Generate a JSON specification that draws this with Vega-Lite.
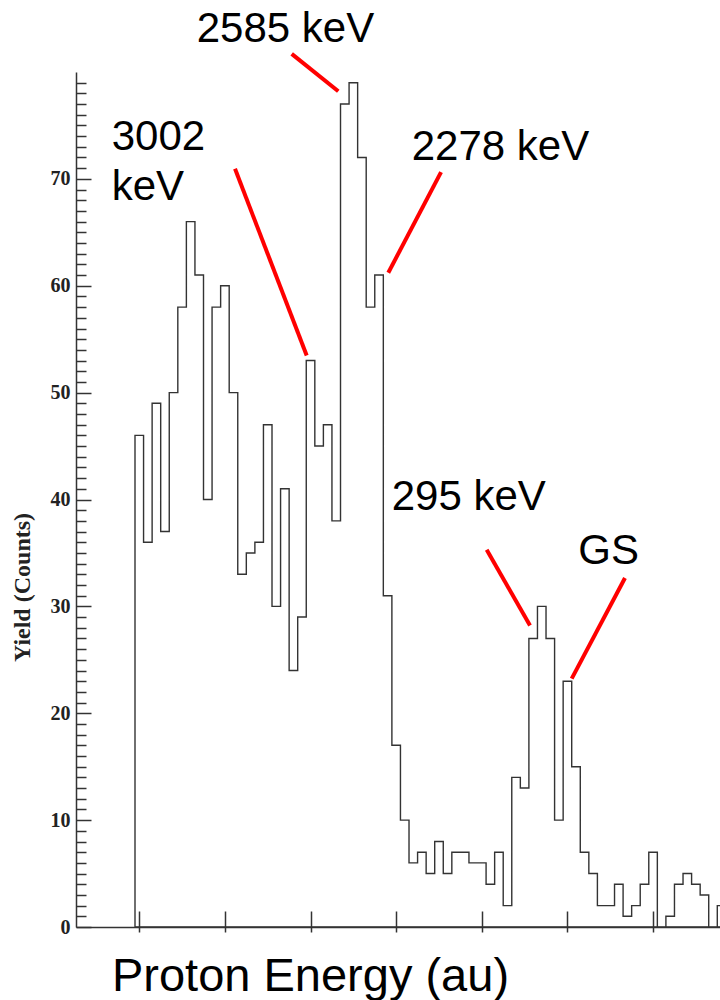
{
  "$schema": "https://vega.github.io/schema/vega-lite/v6.json",
  "width": 644,
  "height": 855,
  "autosize": "none",
  "padding": {"left": 76, "top": 72, "right": 0, "bottom": 73},
  "background": "white",
  "config": {"view": {"stroke": null}},
  "resolve": {"axis": {"x": "independent", "y": "independent"}},
  "datasets": {
    "hist": [
      {"bin": 0, "n": 46}, {"bin": 1, "n": 36}, {"bin": 2, "n": 49}, {"bin": 3, "n": 37}, {"bin": 4, "n": 50},
      {"bin": 5, "n": 58}, {"bin": 6, "n": 66}, {"bin": 7, "n": 61}, {"bin": 8, "n": 40}, {"bin": 9, "n": 58},
      {"bin": 10, "n": 60}, {"bin": 11, "n": 50}, {"bin": 12, "n": 33}, {"bin": 13, "n": 35}, {"bin": 14, "n": 36},
      {"bin": 15, "n": 47}, {"bin": 16, "n": 30}, {"bin": 17, "n": 41}, {"bin": 18, "n": 24}, {"bin": 19, "n": 29},
      {"bin": 20, "n": 53}, {"bin": 21, "n": 45}, {"bin": 22, "n": 47}, {"bin": 23, "n": 38}, {"bin": 24, "n": 77},
      {"bin": 25, "n": 79}, {"bin": 26, "n": 72}, {"bin": 27, "n": 58}, {"bin": 28, "n": 61}, {"bin": 29, "n": 31},
      {"bin": 30, "n": 17}, {"bin": 31, "n": 10}, {"bin": 32, "n": 6}, {"bin": 33, "n": 7}, {"bin": 34, "n": 5},
      {"bin": 35, "n": 8}, {"bin": 36, "n": 5}, {"bin": 37, "n": 7}, {"bin": 38, "n": 7}, {"bin": 39, "n": 6},
      {"bin": 40, "n": 6}, {"bin": 41, "n": 4}, {"bin": 42, "n": 7}, {"bin": 43, "n": 2}, {"bin": 44, "n": 14},
      {"bin": 45, "n": 13}, {"bin": 46, "n": 27}, {"bin": 47, "n": 30}, {"bin": 48, "n": 27}, {"bin": 49, "n": 10},
      {"bin": 50, "n": 23}, {"bin": 51, "n": 15}, {"bin": 52, "n": 7}, {"bin": 53, "n": 5}, {"bin": 54, "n": 2},
      {"bin": 55, "n": 2}, {"bin": 56, "n": 4}, {"bin": 57, "n": 1}, {"bin": 58, "n": 2}, {"bin": 59, "n": 4},
      {"bin": 60, "n": 7}, {"bin": 61, "n": 0}, {"bin": 62, "n": 1}, {"bin": 63, "n": 4}, {"bin": 64, "n": 5},
      {"bin": 65, "n": 4}, {"bin": 66, "n": 3}, {"bin": 67, "n": 0}, {"bin": 68, "n": 2}, {"bin": 69, "n": 2}
    ],
    "pointers": [
      {"label": "2585 keV", "x1": 18.30, "y1": 81.70, "x2": 23.74, "y2": 78.20},
      {"label": "3002 keV", "x1": 11.68, "y1": 70.94, "x2": 20.05, "y2": 53.48},
      {"label": "2278 keV", "x1": 35.74, "y1": 70.63, "x2": 29.58, "y2": 61.22},
      {"label": "295 keV", "x1": 41.07, "y1": 35.30, "x2": 46.13, "y2": 28.22},
      {"label": "GS", "x1": 57.22, "y1": 32.65, "x2": 51.00, "y2": 23.24}
    ],
    "labels": [
      {"text": "2585 keV", "x": 7.21, "y": 82.79},
      {"text": "3002\nkeV", "x": -2.72, "y": 72.66},
      {"text": "2278 keV", "x": 32.31, "y": 71.72},
      {"text": "295 keV", "x": 29.98, "y": 38.98},
      {"text": "GS", "x": 51.77, "y": 33.99}
    ]
  },
  "layer": [
    {
      "data": {"name": "hist"},
      "mark": {"type": "area", "interpolate": "step-after", "fill": "transparent", "stroke": "#333333", "strokeWidth": 1.4, "clip": true},
      "encoding": {
        "x": {
          "field": "bin", "type": "quantitative",
          "scale": {"domain": [-6.89, 68.317], "nice": false, "zero": false},
          "title": "Proton Energy (au)",
          "axis": {
            "orient": "bottom",
            "values": [0.5, 10.5, 20.5, 30.5, 40.5, 50.5, 60.5],
            "labels": false, "grid": false,
            "tickSize": -16, "tickColor": "#333333", "tickWidth": 1.5,
            "domainColor": "#333333", "domainWidth": 1.5,
            "titleFont": "Liberation Sans", "titleFontSize": 47, "titleFontWeight": "normal", "titleColor": "black",
            "titleX": 234, "titleY": 63, "titleAlign": "center", "titleBaseline": "alphabetic"
          }
        },
        "y": {
          "field": "n", "type": "quantitative",
          "scale": {"domain": [0, 80], "nice": false},
          "title": "Yield (Counts)",
          "axis": {
            "orient": "left",
            "values": [0, 10, 20, 30, 40, 50, 60, 70],
            "format": "d",
            "labelOverlap": false,
            "tickSize": -15,
            "labelPadding": 21,
            "labelFont": "Liberation Serif", "labelFontWeight": "bold", "labelFontSize": 20, "labelColor": "#222222",
            "tickColor": "#333333", "tickWidth": 1.5,
            "domainColor": "#333333", "domainWidth": 1.5,
            "grid": false,
            "titleFont": "Liberation Serif", "titleFontWeight": "bold", "titleFontSize": 24, "titleColor": "#222222",
            "titleX": -54, "titleY": 515, "titleAlign": "center", "titleBaseline": "middle"
          }
        }
      }
    },
    {
      "data": {"name": "pointers"},
      "mark": {"type": "rule", "color": "#ff0000", "strokeWidth": 4, "clip": false},
      "encoding": {
        "x": {
          "field": "x1", "type": "quantitative", "title": null,
          "axis": {
            "orient": "bottom",
            "values": [0.5, 10.5, 20.5, 30.5, 40.5, 50.5, 60.5],
            "labels": false, "grid": false, "domain": false,
            "tickSize": 5, "tickColor": "#333333", "tickWidth": 1.5
          }
        },
        "y": {
          "field": "y1", "type": "quantitative", "title": null,
          "axis": {
            "orient": "left",
            "values": [1,2,3,4,5,6,7,8,9,11,12,13,14,15,16,17,18,19,21,22,23,24,25,26,27,28,29,31,32,33,34,35,36,37,38,39,41,42,43,44,45,46,47,48,49,51,52,53,54,55,56,57,58,59,61,62,63,64,65,66,67,68,69,71,72,73,74,75,76,77,78,79],
            "labels": false, "grid": false, "domain": false,
            "tickSize": -10, "tickColor": "#333333", "tickWidth": 1.5
          }
        },
        "x2": {"field": "x2"},
        "y2": {"field": "y2"}
      }
    },
    {
      "data": {"name": "labels"},
      "mark": {"type": "text", "font": "Liberation Sans", "fontSize": 42, "align": "left", "baseline": "alphabetic", "lineBreak": "\n", "lineHeight": 50, "color": "black", "clip": false},
      "encoding": {
        "x": {"field": "x", "type": "quantitative", "axis": null},
        "y": {"field": "y", "type": "quantitative", "axis": null},
        "text": {"field": "text"}
      }
    }
  ]
}
